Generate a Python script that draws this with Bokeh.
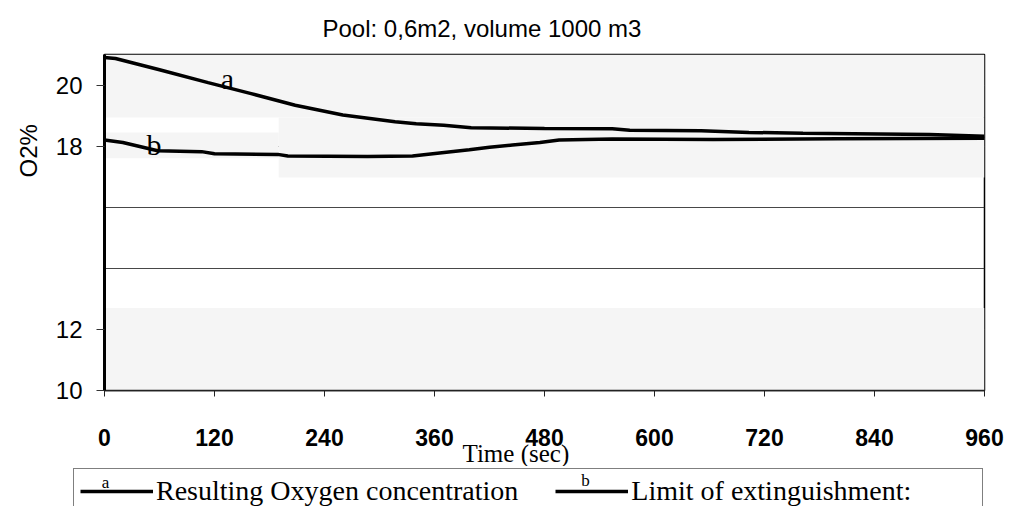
from bokeh.plotting import figure
from bokeh.layouts import column, row
from bokeh.models import Range1d, FixedTicker, BoxAnnotation, Label, Legend, LegendItem, Title
from bokeh.embed import file_html
from bokeh.resources import INLINE

# ---- data ----
t_a = [0, 12, 60, 113, 160, 208, 260, 317, 340, 370, 400, 480, 554, 573, 651, 703, 762, 900, 960]
o2_a = [20.9, 20.87, 20.5, 20.08, 19.72, 19.34, 19.02, 18.8, 18.73, 18.68, 18.6, 18.58, 18.57,
        18.52, 18.5, 18.45, 18.42, 18.38, 18.32]
t_b = [0, 20, 58, 106, 120, 189, 200, 287, 336, 373, 398, 420, 445, 475, 496, 554, 664, 800, 960]
o2_b = [18.2, 18.12, 17.85, 17.82, 17.75, 17.73, 17.68, 17.66, 17.68, 17.8, 17.88, 17.96, 18.04,
        18.12, 18.2, 18.23, 18.22, 18.24, 18.26]
x_ticks = [0, 120, 240, 360, 480, 600, 720, 840, 960]
y_ticks = [10, 12, 18, 20]
y_grid = [12, 14, 16, 18, 20]
title_text = "Pool: 0,6m2, volume 1000 m3"
y_label = "O2%"
x_label = "Time (sec)"
label_a = "Resulting Oxygen concentration"
label_b = "Limit of extinguishment:"

W = 1012
p = figure(width=W, height=466, x_range=Range1d(0, 960), y_range=Range1d(10, 21),
           output_backend="svg", toolbar_location=None,
           min_border_left=104, min_border_right=W - 984, min_border_top=54, min_border_bottom=76)

p.title.text = title_text
p.title.align = "left"
p.title.offset = 218
p.title.standoff = 25
p.title.text_font = "Liberation Sans"
p.title.text_font_size = "24px"
p.title.text_font_style = "normal"
p.title.text_color = "black"

p.add_layout(Title(text=y_label, align="left", offset=213, standoff=22,
                   text_font="Liberation Sans", text_font_size="24px",
                   text_font_style="normal", text_color="black"), "left")

p.background_fill_color = "white"
p.border_fill_color = "white"
p.outline_line_color = "black"
p.outline_line_width = 1.5

# background scan bands
p.add_layout(BoxAnnotation(bottom=18.94, top=21, fill_color="#f5f5f5", fill_alpha=1, line_alpha=0, level="underlay"))
p.add_layout(BoxAnnotation(bottom=17.6, top=18.45, right=190, fill_color="#f5f5f5", fill_alpha=1, line_alpha=0, level="underlay"))
p.add_layout(BoxAnnotation(bottom=16.97, top=18.94, left=190, fill_color="#f5f5f5", fill_alpha=1, line_alpha=0, level="underlay"))
p.add_layout(BoxAnnotation(bottom=10, top=12.7, fill_color="#f5f5f5", fill_alpha=1, line_alpha=0, level="underlay"))

# grid
p.xgrid.visible = False
p.ygrid.ticker = FixedTicker(ticks=y_grid)
p.ygrid.grid_line_color = "#333333"
p.ygrid.grid_line_width = 1
p.ygrid.grid_line_alpha = 0.9

# axes
p.xaxis.ticker = FixedTicker(ticks=x_ticks)
p.xaxis.major_label_text_font = "Liberation Sans"
p.xaxis.major_label_text_font_size = "23px"
p.xaxis.major_label_text_font_style = "bold"
p.xaxis.major_label_text_color = "black"
p.xaxis.major_label_standoff = 32
p.xaxis.major_tick_in = 0
p.xaxis.major_tick_out = 6
p.xaxis.major_tick_line_color = "#222222"
p.xaxis.minor_tick_line_color = None
p.xaxis.axis_line_color = "#222222"
p.xaxis.axis_line_width = 1.5

p.add_layout(Title(text=x_label, align="left", offset=462 - 104, standoff=-21,
                   text_font="Liberation Serif", text_font_size="25px",
                   text_font_style="normal", text_color="black"), "below")

p.yaxis.ticker = FixedTicker(ticks=y_ticks)
p.yaxis.major_label_text_font = "Liberation Sans"
p.yaxis.major_label_text_font_size = "24px"
p.yaxis.major_label_text_color = "black"
p.yaxis.major_label_standoff = 14
p.yaxis.major_tick_in = 0
p.yaxis.major_tick_out = 8
p.yaxis.major_tick_line_color = "#333333"
p.yaxis.minor_tick_line_color = None
p.yaxis.axis_line_color = "black"
p.yaxis.axis_line_width = 3

# series
p.line(t_a, o2_a, line_color="black", line_width=3.5)
p.line(t_b, o2_b, line_color="black", line_width=3.5)

p.add_layout(Label(x=134, y=20.2, text="a", text_font="Liberation Serif", text_font_size="30px",
                   text_color="black", text_align="center", text_baseline="middle"))
p.add_layout(Label(x=54, y=18.05, text="b", text_font="Liberation Serif", text_font_size="30px",
                   text_color="black", text_align="center", text_baseline="middle"))

# ---- legend strip (y in pixels below the strip top, negative) ----
LH = 40
leg = figure(width=W, height=LH, x_range=Range1d(72, W), y_range=Range1d(-(LH - 1), 0),
             output_backend="svg", toolbar_location=None, x_axis_type=None, y_axis_type=None,
             min_border_left=72, min_border_right=0, min_border_top=1, min_border_bottom=0)
leg.outline_line_color = None
leg.grid.visible = False
leg.background_fill_color = "white"
la = leg.line(t_a, o2_a, line_color="black", line_width=3.5)   # out of view, legend glyph only
lb = leg.line(t_b, o2_b, line_color="black", line_width=3.5)
legend = Legend(items=[LegendItem(label=label_a, renderers=[la]),
                       LegendItem(label=label_b, renderers=[lb])],
                orientation="horizontal", location="top_left",
                label_text_font="Liberation Serif", label_text_font_size="28px",
                label_text_color="black", label_standoff=3, label_width=345,
                glyph_width=73, glyph_height=20, padding=6, margin=1, spacing=37,
                border_line_color="black", border_line_width=1.5,
                background_fill_alpha=0)
leg.add_layout(legend)
leg.add_layout(Label(x=105, y=-15, text="a", text_font="Liberation Serif", text_font_size="17px",
                     text_color="black", text_align="center", text_baseline="middle"))
leg.add_layout(Label(x=585, y=-13, text="b", text_font="Liberation Serif", text_font_size="17px",
                     text_color="black", text_align="center", text_baseline="middle"))

page = column(p, row(leg), spacing=0)
open("out.html", "w").write(file_html(page, INLINE))
